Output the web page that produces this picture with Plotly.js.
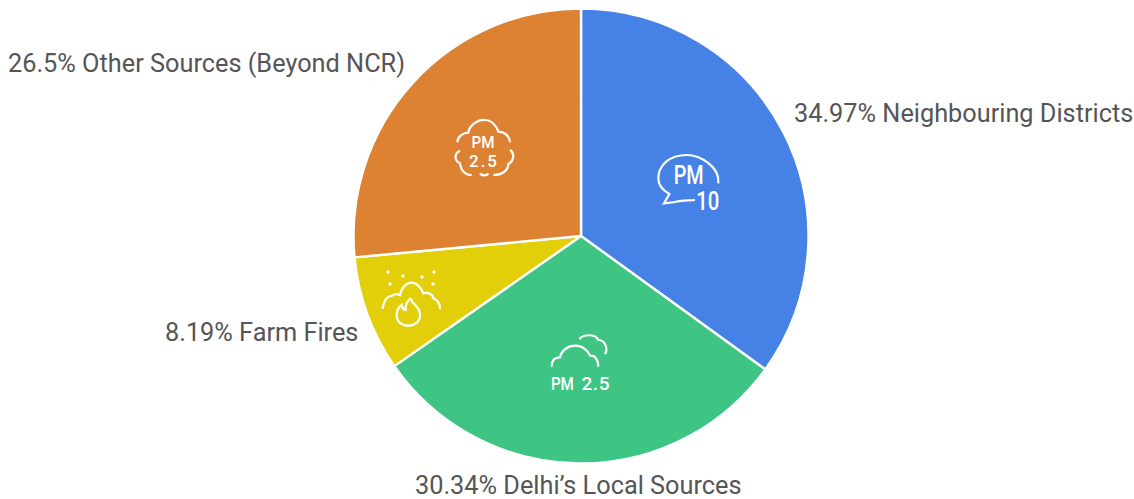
<!DOCTYPE html>
<html>
<head>
<meta charset="utf-8">
<script src="https://cdn.plot.ly/plotly-3.0.1.min.js"></script>
<style>html,body{margin:0;padding:0;background:#fff}#c{width:1134px;height:499px}</style>
</head>
<body>
<div id="c"></div>
<script>
const categories = ["Neighbouring Districts", "Delhi’s Local Sources", "Farm Fires", "Other Sources (Beyond NCR)"];
const shares = [34.97, 30.34, 8.19, 26.5];
const colours = ["#4682E6", "#3EC483", "#E2CF0A", "#DC8232"];

const W = 1134, H = 499;
const px = x => x / W, py = y => 1 - y / H;

// Convert an icon outline, drawn in a 3x zoom frame, to paper coordinates
function toPaper(d, ox, oy) {
  return d.replace(/(-?[\d.]+),(-?[\d.]+)/g, (m, a, b) =>
    px(ox + a / 3).toFixed(5) + ',' + py(oy + b / 3).toFixed(5));
}
const stroke = (d, ox, oy) => ({
  type: 'path', xref: 'paper', yref: 'paper', path: toPaper(d, ox, oy),
  line: {color: '#fff', width: 2.2}, fillcolor: 'rgba(0,0,0,0)'
});
const dot = (x, y) => ({
  type: 'circle', xref: 'paper', yref: 'paper',
  x0: px(x - 1.7), x1: px(x + 1.7), y0: py(y + 1.7), y1: py(y - 1.7),
  fillcolor: '#fff', line: {width: 0}
});

const shapes = [
  stroke('M235,130 C240,80 180,45 140,45 C90,45 55,75 55,115 C55,135 70,152 88,162 L72,190 L105,186 C120,182 140,182 165,180', 640, 140),
  stroke('M82,97 C82,80 100,68 115,68 C118,45 145,27 165,30 C185,30 200,48 205,65 C225,65 240,80 240,97', 430, 110),
  stroke('M90,122 C72,130 72,152 90,160 C92,180 105,195 125,195', 430, 110),
  stroke('M240,120 C255,130 252,152 235,162 C235,182 215,195 190,195', 430, 110),
  stroke('M150,190 C155,198 170,198 175,190', 430, 110),
  stroke('M38,147 C40,125 50,108 65,108 C75,100 85,103 90,105 C95,80 110,68 125,68 C140,68 155,85 160,100 C175,95 190,105 190,115 C205,120 210,135 210,147', 370, 260),
  stroke('M122,115 C125,135 150,135 150,165 C150,185 135,197 115,197 C95,197 80,185 80,165 C80,150 88,140 95,135 C97,145 100,150 107,150 C105,135 110,125 122,115', 370, 260),
  dot(388, 272), dot(403, 276), dot(422, 277), dot(434, 272), dot(390, 284), dot(433, 284),
  stroke('M65,125 C65,105 75,97 90,97 C95,75 115,62 135,62 C160,62 175,80 180,92 C195,90 205,105 205,125', 530, 325),
  stroke('M148,42 C160,28 195,25 205,45 C225,45 235,70 225,88', 530, 325)
];

const labelFont = {family: 'Roboto, sans-serif', size: 25.3, color: '#555555'};
const label = (i, x, y, xanchor) => ({
  xref: 'paper', yref: 'paper', x: px(x), y: py(y), xanchor, yanchor: 'middle',
  text: shares[i] + '% ' + categories[i], showarrow: false, font: labelFont,
  borderpad: 0, borderwidth: 0
});
const iconText = (text, x, y, size) => ({
  xref: 'paper', yref: 'paper', x: px(x), y: py(y), xanchor: 'center', yanchor: 'middle',
  text, showarrow: false, font: {family: 'Roboto, sans-serif', size, color: '#fff', weight: 500},
  borderpad: 0, borderwidth: 0
});

const annotations = [
  label(0, 794, 113, 'left'),
  label(1, 578, 485, 'center'),
  label(2, 358, 332, 'right'),
  label(3, 8, 63, 'left'),
  iconText('PM', 688, 175, 26),
  iconText('10', 708, 201, 26),
  iconText('PM', 483, 142, 16),
  iconText('2.5', 483, 161, 17),
  iconText('PM', 562, 383, 19),
  iconText('2.5', 595, 383, 19)
];
// Rendered width of each icon caption, in the same order as its annotation
const captionWidths = {4: 30, 5: 23, 6: 23, 7: 28, 8: 23, 9: 28};
const squeezed = [4, 5, 6, 8];

Plotly.newPlot('c', [{
  type: 'pie',
  labels: categories,
  values: shares,
  sort: false,
  direction: 'clockwise',
  rotation: 0,
  textinfo: 'none',
  hoverinfo: 'label+percent',
  marker: {colors: colours, line: {color: '#fff', width: 2.4}},
  domain: {x: [353.5 / W, 808.5 / W], y: [1 - 463.5 / H, 1 - 8.5 / H]}
}], {
  width: W, height: H,
  margin: {l: 0, r: 0, t: 0, b: 0},
  showlegend: false,
  paper_bgcolor: '#fff',
  shapes, annotations
}, {displayModeBar: false}).then(() => {
  const nodes = document.querySelectorAll('.annotation-text');
  Object.keys(captionWidths).forEach(i => {
    nodes[i].setAttribute('textLength', captionWidths[i]);
    nodes[i].setAttribute('lengthAdjust', squeezed.includes(+i) ? 'spacingAndGlyphs' : 'spacing');
  });
});
</script>
</body>
</html>
